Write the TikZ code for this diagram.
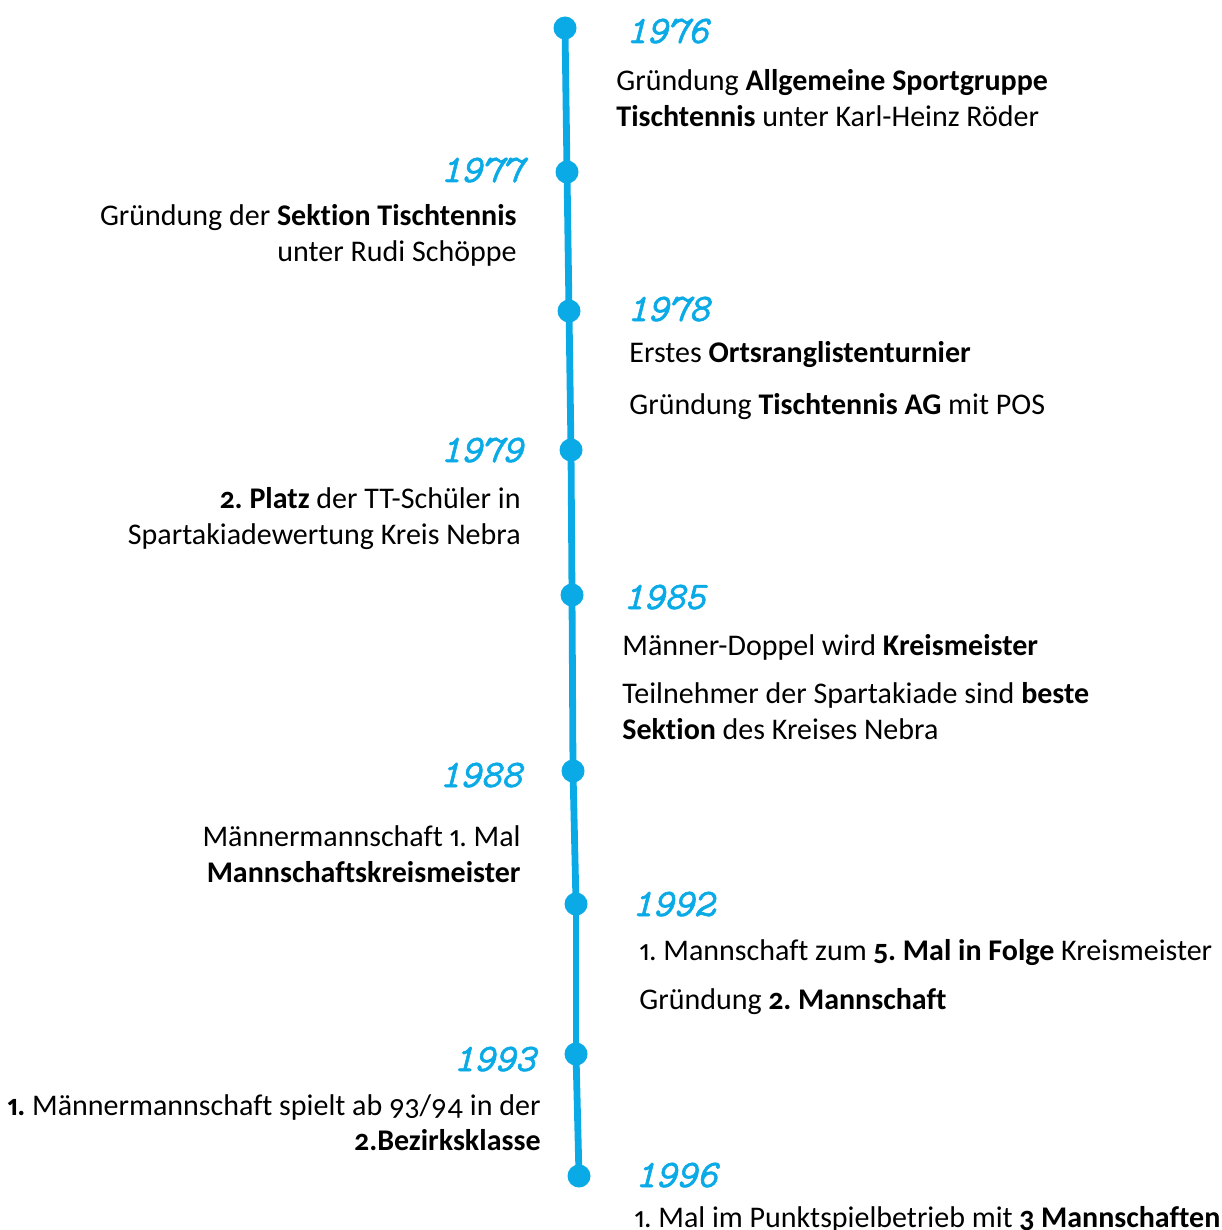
\documentclass[tikz,border=0pt]{standalone}
\usepackage{fontspec}
\setmainfont{Carlito}[Numbers={OldStyle,Proportional}, Ligatures=NoCommon]
\newfontfamily\yearfont{Latin Modern Mono}[ItalicFeatures={FakeBold=1.5}]
\usepackage{tikz}
\usetikzlibrary{positioning}
\definecolor{tlBlue}{HTML}{0AAAE6}
\frenchspacing

\begin{document}
\begin{tikzpicture}[
  x=0.5pt, y=-0.5pt,
  every node/.style={inner sep=0pt},
  dot/.style={circle, fill=tlBlue, minimum size=11.5pt},
  year/.style={font=\yearfont\itshape\fontsize{19.5}{20}\selectfont, text=tlBlue},
  entry/.style={font=\fontsize{15}{18}\selectfont, text=black},
  axis/.style={draw=tlBlue, line width=3.4pt},
]
\useasboundingbox (0,0) rectangle (1221,1230);

% === TIMELINE DOTS ===
\node[dot] (d76) at (565,28) {};
\node[dot] (d77) at (567,172) {};
\node[dot] (d78) at (569,311) {};
\node[dot] (d79) at (571,450) {};
\node[dot] (d85) at (572,595) {};
\node[dot] (d88) at (573,771) {};
\node[dot] (d92) at (576,904) {};
\node[dot] (d93) at (576,1054) {};
\node[dot] (d96) at (579,1176) {};

% Axis segments
\foreach \a/\b in {d76/d77, d77/d78, d78/d79, d79/d85, d85/d88, d88/d92, d92/d93, d93/d96} {
  \draw[axis] (\a.center) -- (\b.center);
}

% === 1976 ===
\node[year, anchor=base west] (y76) at (626,43) {1976};
\node[entry, anchor=base west] (l76a) at (616,91) {Gründung \textbf{Allgemeine Sportgruppe}};
\node[entry, anchor=base west] (l76b) at (616,127) {\textbf{Tischtennis} unter Karl-Heinz Röder};

% === 1977 ===
\node[year, anchor=base east] (y77) at (523,182) {1977};
\node[entry, anchor=base east] (l77a) at (517,226) {Gründung der \textbf{Sektion Tischtennis}};
\node[entry, anchor=base east] (l77b) at (517,262) {unter Rudi Schöppe};

% === 1978 ===
\node[year, anchor=base west] (y78) at (627,321) {1978};
\node[entry, anchor=base west] (l78a) at (629,362) {Erstes \textbf{Ortsranglistenturnier}};
\node[entry, anchor=base west] (l78b) at (629,414) {Gründung \textbf{Tischtennis AG} mit POS};

% === 1979 ===
\node[year, anchor=base east] (y79) at (523,462) {1979};
\node[entry, anchor=base east] (l79a) at (521,508) {\textbf{2. Platz} der TT-Schüler in};
\node[entry, anchor=base east] (l79b) at (521,544) {Spartakiadewertung Kreis Nebra};

% === 1985 ===
\node[year, anchor=base west] (y85) at (623,609) {1985};
\node[entry, anchor=base west] (l85a) at (622,655) {Männer-Doppel wird \textbf{Kreismeister}};
\node[entry, anchor=base west] (l85b) at (622,703) {Teilnehmer der Spartakiade sind \textbf{beste}};
\node[entry, anchor=base west] (l85c) at (622,739) {\textbf{Sektion} des Kreises Nebra};

% === 1988 ===
\node[year, anchor=base east] (y88) at (522,787) {1988};
\node[entry, anchor=base east] (l88a) at (521,846) {Männermannschaft 1. Mal};
\node[entry, anchor=base east] (l88b) at (521,882) {\textbf{Mannschaftskreismeister}};

% === 1992 ===
\node[year, anchor=base west] (y92) at (632,916) {1992};
\node[entry, anchor=base west] (l92a) at (639,960) {1. Mannschaft zum \textbf{5. Mal in Folge} Kreismeister};
\node[entry, anchor=base west] (l92b) at (639,1009) {Gründung \textbf{2. Mannschaft}};

% === 1993 ===
\node[year, anchor=base east] (y93) at (536,1071) {1993};
\node[entry, anchor=base east] (l93a) at (541,1115) {\textbf{1.} Männermannschaft spielt ab 93/94 in der};
\node[entry, anchor=base east] (l93b) at (541,1150) {\textbf{2.Bezirksklasse}};

% === 1996 ===
\node[year, anchor=base west] (y96) at (635,1187) {1996};
\node[entry, anchor=base west] (l96a) at (634,1227) {1. Mal im Punktspielbetrieb mit \textbf{3 Mannschaften}};

\end{tikzpicture}
\end{document}
